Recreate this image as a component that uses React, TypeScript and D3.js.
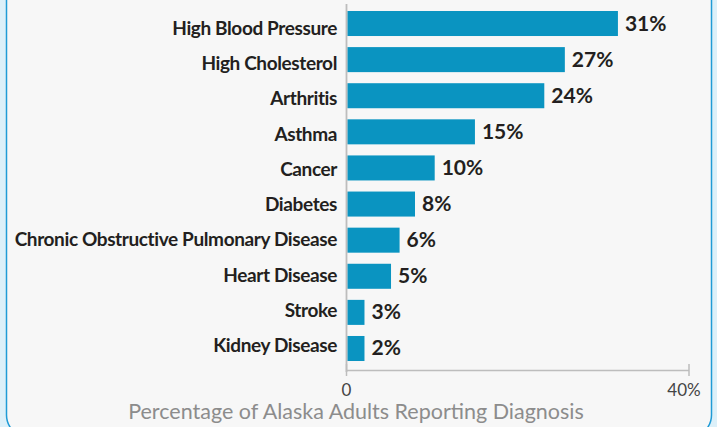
import * as d3 from 'd3';
import { useEffect, useRef } from 'react';

const categories = [
  'High Blood Pressure',
  'High Cholesterol',
  'Arthritis',
  'Asthma',
  'Cancer',
  'Diabetes',
  'Chronic Obstructive Pulmonary Disease',
  'Heart Disease',
  'Stroke',
  'Kidney Disease',
];
// bar lengths as drawn in the picture (percent)
const values = [31.7, 25.5, 23.1, 15.0, 10.3, 8.0, 6.2, 5.2, 2.1, 2.1];
// printed labels next to the bars
const valueLabels = ['31%', '27%', '24%', '15%', '10%', '8%', '6%', '5%', '3%', '2%'];
const xTicks = [0, 40];
const xTickLabels = ['0', '40%'];
const axisTitle = 'Percentage of Alaska Adults Reporting Diagnosis';

function App() {
  const svgRef = useRef<SVGSVGElement | null>(null);

  useEffect(() => {
    if (!svgRef.current) return;
    const svg = d3.select(svgRef.current);
    svg.selectAll('*').remove();

    const width = 717;
    const height = 427;
    const font = 'Lato, "Open Sans", sans-serif';

    // outer frame
    svg.append('rect')
      .attr('width', width).attr('height', height)
      .attr('fill', '#dcf0f9');
    svg.append('rect')
      .attr('x', 6.5).attr('y', -40)
      .attr('width', 705).attr('height', 477)
      .attr('rx', 22)
      .attr('fill', '#f7f7f7')
      .attr('stroke', '#1f9bd6')
      .attr('stroke-width', 1.5);

    const x = d3.scaleLinear().domain([0, 40]).range([346.5, 689]);
    const y = d3.scaleBand<string>()
      .domain(categories)
      .range([5.45, 366.55])
      .paddingInner(0.307)
      .paddingOuter(0.1535);
    const labelY = d3.scalePoint<string>().domain(categories).range([35, 352]);

    const g = svg.append('g');

    g.selectAll('.bar')
      .data(categories)
      .enter().append('rect')
      .attr('class', 'bar')
      .attr('x', x(0) + 0.8)
      .attr('y', d => y(d) as number)
      .attr('width', (d, i) => x(values[i]) - x(0) - 0.8)
      .attr('height', y.bandwidth())
      .attr('fill', '#0a94c1');

    g.selectAll('.cat')
      .data(categories)
      .enter().append('text')
      .attr('class', 'cat')
      .attr('x', 337)
      .attr('y', d => labelY(d) as number)
      .attr('text-anchor', 'end')
      .attr('font-family', font)
      .attr('font-weight', 700)
      .attr('font-size', 19)
      .attr('letter-spacing', -0.38)
      .attr('fill', '#231f20')
      .text(d => d);

    g.selectAll('.val')
      .data(categories)
      .enter().append('text')
      .attr('class', 'val')
      .attr('x', (d, i) => x(values[i]) + 7)
      .attr('y', d => (y(d) as number) + y.bandwidth() / 2 + 7)
      .attr('font-family', font)
      .attr('font-weight', 700)
      .attr('font-size', 21)
      .attr('fill', '#231f20')
      .text((d, i) => valueLabels[i]);

    // axes
    g.append('line')
      .attr('x1', x(0)).attr('x2', x(0))
      .attr('y1', 4).attr('y2', 372)
      .attr('stroke', '#bdbdbd').attr('stroke-width', 1.8);
    g.append('line')
      .attr('x1', x(0)).attr('x2', x(40))
      .attr('y1', 370.5).attr('y2', 370.5)
      .attr('stroke', '#bdbdbd').attr('stroke-width', 1.5);

    g.selectAll('.tick')
      .data(xTicks)
      .enter().append('line')
      .attr('class', 'tick')
      .attr('x1', d => x(d)).attr('x2', d => x(d))
      .attr('y1', 364).attr('y2', 376)
      .attr('stroke', '#bdbdbd').attr('stroke-width', 1.5);

    g.selectAll('.ticklabel')
      .data(xTicks)
      .enter().append('text')
      .attr('class', 'ticklabel')
      .attr('x', (d, i) => x(d) - (i === xTicks.length - 1 ? 5 : 0))
      .attr('y', 396)
      .attr('text-anchor', 'middle')
      .attr('font-family', font)
      .attr('font-size', 17)
      .attr('fill', '#444')
      .text((d, i) => xTickLabels[i]);

    g.append('text')
      .attr('x', 356)
      .attr('y', 419)
      .attr('text-anchor', 'middle')
      .attr('font-family', font)
      .attr('font-size', 21.5)
      .attr('fill', '#8c8c8c')
      .text(axisTitle);
  }, []);

  return (
    <svg
      ref={svgRef}
      width={717}
      height={427}
      style={{ position: 'fixed', left: 0, top: 0, display: 'block' }}
    />
  );
}

export default App;
